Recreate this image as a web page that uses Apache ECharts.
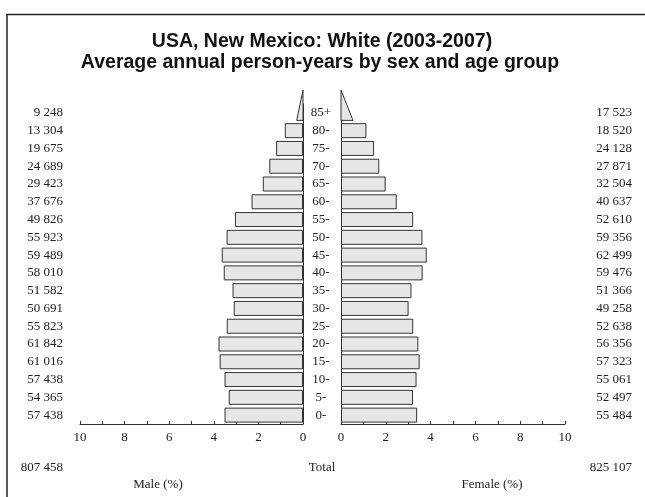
<!DOCTYPE html>
<html><head><meta charset="utf-8">
<script src="https://cdn.jsdelivr.net/npm/echarts@6/dist/echarts.min.js"></script>
<style>html,body{margin:0;padding:0;background:#fff}#c{width:645px;height:497px}</style>
</head><body><div id="c"></div>
<script>
const ageGroups = ['0-','5-','10-','15-','20-','25-','30-','35-','40-','45-','50-','55-','60-','65-','70-','75-','80-','85+'];
const maleCounts = [57438,54365,57438,61016,61842,55823,50691,51582,58010,59489,55923,49826,37676,29423,24689,19675,13304,9248];
const femaleCounts = [55484,52497,55061,57323,56356,52638,49258,51366,59476,62499,59356,52610,40637,32504,27871,24128,18520,17523];
const maleTotal = 807458;
const femaleTotal = 825107;
const xTicks = [0,2,4,6,8,10];

const grand = maleTotal + femaleTotal;
const malePct = maleCounts.map(v => v / grand * 100);
const femalePct = femaleCounts.map(v => v / grand * 100);
const last = ageGroups.length - 1;
const fmt = n => String(n).replace(/\B(?=(\d{3})+(?!\d))/g, ' ');

const serif = '"Liberation Serif","DejaVu Serif",serif';
const sans = 'Arial, "Liberation Sans", Helvetica, sans-serif';
const txt = '#222';
const fill = '#e6e6e6';
const edge = '#333';

function barData(arr){ return arr.map((v,i) => i === last ? '-' : v); }

function triangle(){
  return function(params, api){
    const idx = api.value(1);
    const v = api.value(0);
    const c0 = api.coord([0, idx]);
    const c1 = api.coord([v / 2, idx]);
    const bh = api.size([0, 1])[1];
    const bottom = c0[1] + 7.5;
    const top = bottom - bh * 1.7;
    return {
      type: 'polygon',
      shape: { points: [[c0[0], top], [c0[0], bottom], [c1[0], bottom]] },
      style: { fill: fill, stroke: edge, lineWidth: 1 }
    };
  };
}

const chart = echarts.init(document.getElementById('c'), null, {renderer:'canvas'});
const gridTop = 104, gridBottom = 497 - 424;
const valueAxis = (idx, inverse) => ({
  gridIndex: idx, type: 'value', min: 0, max: 10, interval: 1, inverse: inverse,
  axisLine: { show: true, lineStyle: { color: edge, width: 1 } },
  axisTick: { show: true, inside: true, length: 3, lineStyle: { color: edge } },
  splitLine: { show: false },
  axisLabel: { margin: 7, fontFamily: serif, fontSize: 13, color: txt,
    formatter: v => xTicks.includes(v) ? String(v) : '' }
});
chart.setOption({
  animation: false,
  backgroundColor: '#fff',
  title: [
    { text: 'USA, New Mexico: White (2003-2007)', left: 317, top: 27, textAlign: 'center',
      textStyle: { fontFamily: sans, fontWeight: 'bold', fontSize: 19.5, color: '#111' } },
    { text: 'Average annual person-years by sex and age group', left: 315, top: 48, textAlign: 'center',
      textStyle: { fontFamily: sans, fontWeight: 'bold', fontSize: 19.5, color: '#111' } }
  ],
  grid: [
    { left: 80, right: 645 - 303, top: gridTop, bottom: gridBottom },
    { left: 341, right: 645 - 565, top: gridTop, bottom: gridBottom }
  ],
  xAxis: [ valueAxis(0, true), valueAxis(1, false) ],
  yAxis: [
    { gridIndex: 0, type: 'category', data: ageGroups, position: 'right',
      axisLine: { show: true, lineStyle: { color: edge, width: 1 } },
      axisTick: { show: false }, axisLabel: { show: false } },
    { gridIndex: 1, type: 'category', data: ageGroups, position: 'left',
      axisLine: { show: true, lineStyle: { color: edge, width: 1 } },
      axisTick: { show: false },
      axisLabel: { show: true, align: 'center', margin: 20, fontFamily: serif, fontSize: 13, color: txt } },
    { gridIndex: 0, type: 'category', data: maleCounts.map(fmt), position: 'left',
      axisLine: { show: false }, axisTick: { show: false },
      axisLabel: { show: true, align: 'right', margin: 17, fontFamily: serif, fontSize: 13, color: txt } },
    { gridIndex: 1, type: 'category', data: femaleCounts.map(fmt), position: 'right',
      axisLine: { show: false }, axisTick: { show: false },
      axisLabel: { show: true, align: 'right', margin: 67, fontFamily: serif, fontSize: 13, color: txt } }
  ],
  series: [
    { type: 'bar', xAxisIndex: 0, yAxisIndex: 0, data: barData(malePct), barWidth: 15,
      itemStyle: { color: fill, borderColor: edge, borderWidth: 1 }, silent: true },
    { type: 'bar', xAxisIndex: 1, yAxisIndex: 1, data: barData(femalePct), barWidth: 15,
      itemStyle: { color: fill, borderColor: edge, borderWidth: 1 }, silent: true },
    { type: 'custom', xAxisIndex: 0, yAxisIndex: 0, renderItem: triangle(),
      data: [[malePct[last], last]], encode: { x: 0, y: 1 }, clip: false, silent: true, z: 3 },
    { type: 'custom', xAxisIndex: 1, yAxisIndex: 1, renderItem: triangle(),
      data: [[femalePct[last], last]], encode: { x: 0, y: 1 }, clip: false, silent: true, z: 3 }
  ],
  graphic: [
    { type: 'polyline', shape: { points: [[7, 497], [7, 14.5], [645, 14.5]] },
      style: { stroke: '#222', lineWidth: 1.5, fill: null } },
    { type: 'text', x: 63, y: 468, style: { text: fmt(maleTotal), align: 'right', verticalAlign: 'middle', font: '13px ' + serif, fill: txt } },
    { type: 'text', x: 322, y: 468, style: { text: 'Total', align: 'center', verticalAlign: 'middle', font: '13px ' + serif, fill: txt } },
    { type: 'text', x: 632, y: 468, style: { text: fmt(femaleTotal), align: 'right', verticalAlign: 'middle', font: '13px ' + serif, fill: txt } },
    { type: 'text', x: 158, y: 485, style: { text: 'Male (%)', align: 'center', verticalAlign: 'middle', font: '13px ' + serif, fill: txt } },
    { type: 'text', x: 492, y: 485, style: { text: 'Female (%)', align: 'center', verticalAlign: 'middle', font: '13px ' + serif, fill: txt } }
  ]
});
</script>
</body></html>
